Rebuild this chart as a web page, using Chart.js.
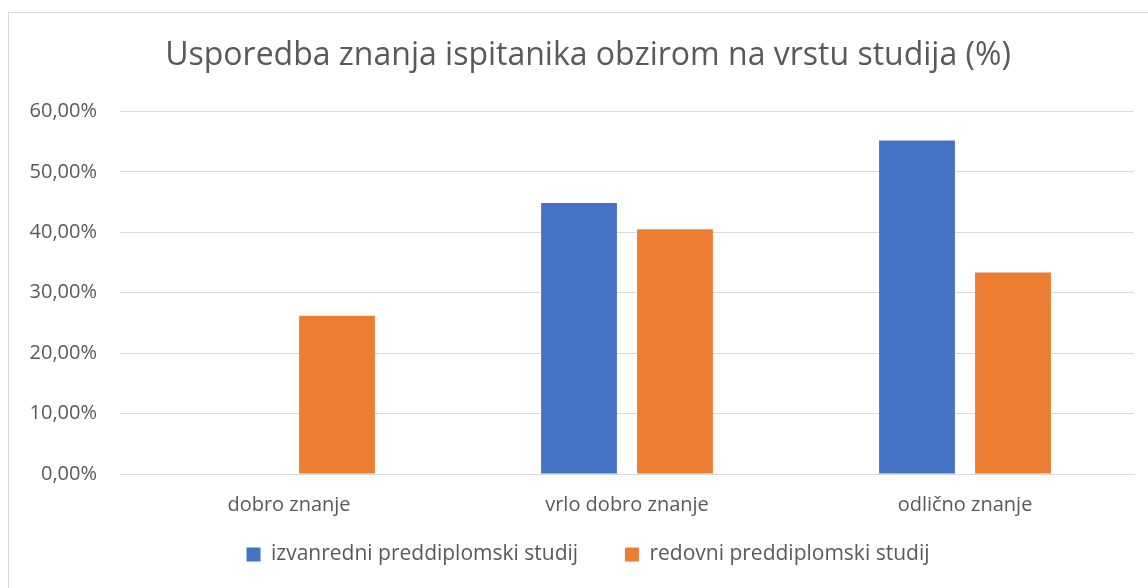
<!DOCTYPE html>
<html>
<head>
<meta charset="utf-8">
<script src="https://cdn.jsdelivr.net/npm/chart.js@4.4.1/dist/chart.umd.min.js"></script>
<style>
  html, body { margin: 0; padding: 0; background: #fff; overflow: hidden; }
  #frame { position: absolute; left: 8px; top: 12px; width: 1200px; height: 700px; border: 1px solid #d9d9d9; box-sizing: border-box; }
  #wrap { position: absolute; left: 0; top: 0; width: 1148px; height: 588px; }
</style>
</head>
<body>
<div id="frame"></div>
<div id="wrap"><canvas id="chart1" width="1148" height="588"></canvas></div>
<script>
// Podaci
const categories = ['dobro znanje', 'vrlo dobro znanje', 'odlično znanje'];
const izvanredni = [0, 44.83, 55.17];
const redovni = [26.19, 40.48, 33.33];
const yTickLabels = ['0,00%', '10,00%', '20,00%', '30,00%', '40,00%', '50,00%', '60,00%'];

const fontFamily = '"Open Sans", sans-serif';
const textColor = '#595959';

// naslov i legenda centrirani malo desno, kao u Excelu
const shiftBoxes = {
    id: 'shiftBoxes',
    afterLayout: function(chart) {
        [chart.titleBlock, chart.legend].forEach(b => {
            if (b) { b.left = 42; b.width = b.right - b.left; }
        });
    }
};

const ctx1 = document.getElementById('chart1').getContext('2d');
new Chart(ctx1, {
    type: 'bar',
    data: {
        labels: categories,
        datasets: [{
            label: 'izvanredni preddiplomski studij',
            data: izvanredni,
            backgroundColor: '#4472C4'
        }, {
            label: 'redovni preddiplomski studij',
            data: redovni,
            backgroundColor: '#ED7D31'
        }]
    },
    plugins: [shiftBoxes],
    options: {
        responsive: false,
        animation: false,
        categoryPercentage: 0.568,
        barPercentage: 0.79,
        layout: { padding: { left: 0, right: 14, top: 0, bottom: 13 } },
        plugins: {
            title: {
                display: true,
                text: 'Usporedba znanja ispitanika obzirom na vrstu studija (%)',
                color: textColor,
                font: { family: fontFamily, size: 32, weight: 'normal' },
                padding: { top: 37, bottom: 36 }
            },
            legend: {
                position: 'bottom',
                labels: {
                    color: textColor,
                    font: { family: fontFamily, size: 21 },
                    boxWidth: 14,
                    boxHeight: 14,
                    padding: 25,
                    generateLabels: function(chart) {
                        const items = Chart.defaults.plugins.legend.labels.generateLabels(chart);
                        items.forEach((it, i) => {
                            if (i < items.length - 1) it.text = it.text + '\u00a0\u00a0\u00a0\u00a0';
                        });
                        return items;
                    }
                }
            },
            tooltip: { enabled: false }
        },
        scales: {
            x: {
                grid: { display: false },
                border: { color: '#d9d9d9' },
                ticks: { color: textColor, font: { family: fontFamily, size: 20 }, padding: 11 },
                afterFit: function(scale) { scale.height = 45; }
            },
            y: {
                min: 0,
                max: 60,
                grid: { color: '#d9d9d9', drawTicks: false },
                border: { display: false },
                ticks: {
                    stepSize: 10,
                    color: textColor,
                    font: { family: fontFamily, size: 20 },
                    padding: 23,
                    callback: (v, i) => yTickLabels[i]
                },
                afterFit: function(scale) { scale.width = 120; }
            }
        }
    }
});
</script>
</body>
</html>
